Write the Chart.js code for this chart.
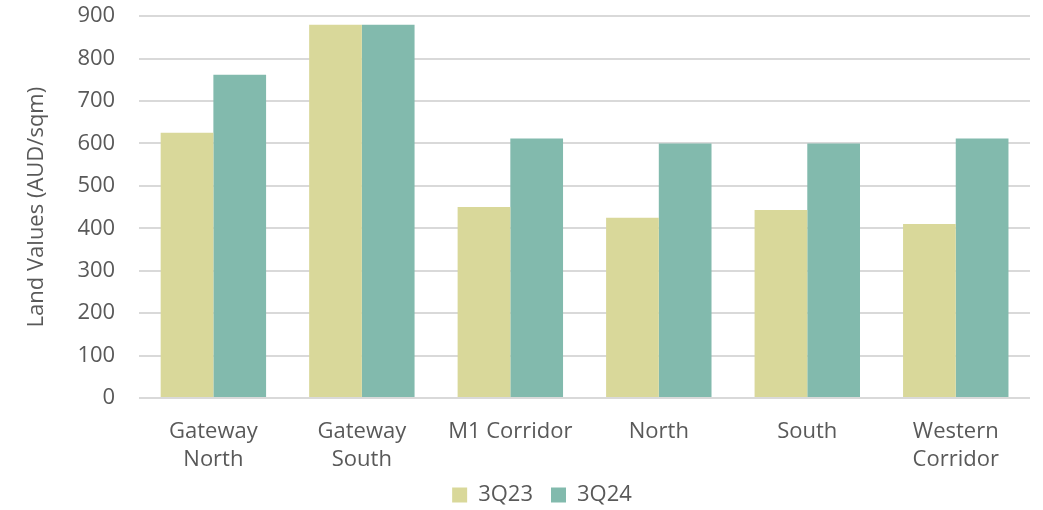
<!DOCTYPE html>
<html>
<head>
<meta charset="utf-8">
<script src="https://cdn.jsdelivr.net/npm/chart.js@4"></script>
<style>
  html, body { margin: 0; padding: 0; background: #fff; }
  #wrap { width: 1043px; height: 510px; }
</style>
</head>
<body>
<div id="wrap"><canvas id="chart"></canvas></div>
<script>
const categories = [['Gateway', 'North'], ['Gateway', 'South'], 'M1 Corridor', 'North', 'South', ['Western', 'Corridor']];
const values3Q23 = [625, 880, 450, 425, 443, 410];
const values3Q24 = [762, 880, 612, 600, 600, 612];
const yTicks = [0, 100, 200, 300, 400, 500, 600, 700, 800, 900];

const textColor = '#595959';
const fontFamily = "'Open Sans', sans-serif";

// legend in the original sits a bit right of centre and tight under the labels
const legendShift = {
  id: 'legendShift',
  afterLayout(chart) {
    chart.legend.left += 17;
    chart.legend.right += 17;
    chart.legend.top -= 19;
    chart.legend.bottom -= 19;
  }
};

const ctx = document.getElementById('chart');

new Chart(ctx, {
  type: 'bar',
  data: {
    labels: categories,
    datasets: [{
      label: '3Q23',
      data: values3Q23,
      backgroundColor: '#D9D89A',
      borderWidth: 0
    }, {
      label: '3Q24',
      data: values3Q24,
      backgroundColor: '#82BAAD',
      borderWidth: 0
    }],
  },
  options: {
    responsive: true,
    maintainAspectRatio: false,
    animation: false,
    layout: {
      padding: {
        top: 0,
        right: 13,
        left: 20,
        bottom: -25
      }
    },
    datasets: {
      bar: {
        categoryPercentage: 0.71,
        barPercentage: 1.0
      }
    },
    plugins: {
      legend: {
        position: 'bottom',
        labels: {
          color: textColor,
          font: { family: fontFamily, size: 22 },
          boxWidth: 15,
          boxHeight: 15,
          padding: 18
        }
      },
      tooltip: { enabled: false }
    },
    scales: {
      x: {
        grid: { display: false },
        border: { display: false },
        ticks: {
          color: textColor,
          font: { family: fontFamily, size: 22, lineHeight: 1.25 },
          padding: 12,
          maxRotation: 0
        }
      },
      y: {
        min: 0,
        max: 900,
        afterBuildTicks: (axis) => {
          axis.ticks = yTicks.map(v => ({ value: v }));
        },
        grid: {
          color: '#d9d9d9',
          lineWidth: 2,
          drawTicks: true,
          tickLength: 21,
          tickColor: 'rgba(0,0,0,0)'
        },
        border: { display: false },
        ticks: {
          color: textColor,
          font: { family: fontFamily, size: 22 },
          padding: 3
        },
        title: {
          display: true,
          text: 'Land Values (AUD/sqm)',
          color: textColor,
          font: { family: fontFamily, size: 22 },
          padding: { top: 4, bottom: 24 }
        }
      }
    }
  },
  plugins: [legendShift]
});
</script>
</body>
</html>
